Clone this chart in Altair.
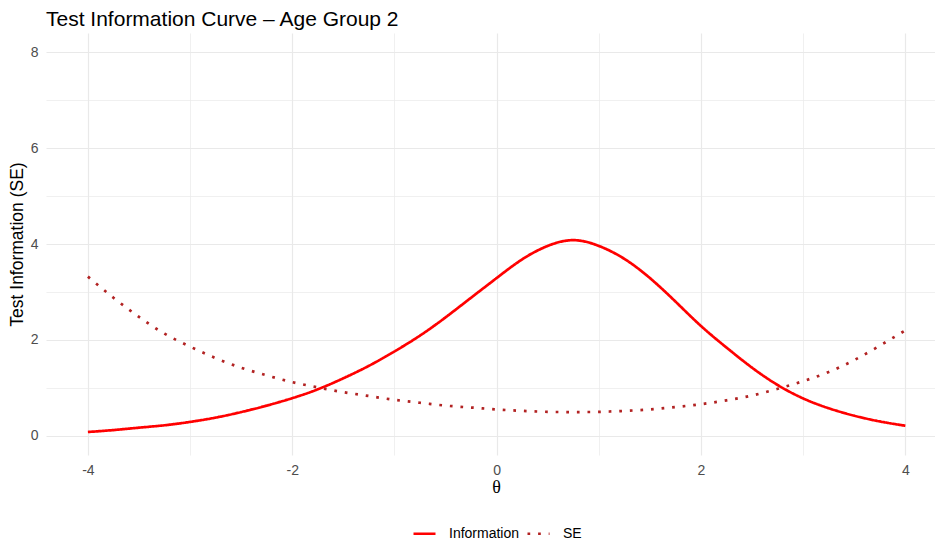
import altair as alt
import pandas as pd

theta = [-4.00, -3.75, -3.50, -3.25, -3.00, -2.75, -2.50, -2.25, -2.00, -1.75,
         -1.50, -1.25, -1.00, -0.75, -0.50, -0.25, 0.00, 0.25, 0.50, 0.75,
         1.00, 1.25, 1.50, 1.75, 2.00, 2.25, 2.50, 2.75, 3.00, 3.25,
         3.50, 3.75, 4.00]

information = [0.08, 0.12, 0.17, 0.22, 0.29, 0.38, 0.495, 0.63, 0.785, 0.97,
               1.20, 1.46, 1.76, 2.09, 2.47, 2.88, 3.29, 3.68, 3.96, 4.08,
               3.96, 3.69, 3.29, 2.80, 2.29, 1.84, 1.42, 1.06, 0.78, 0.575,
               0.42, 0.30, 0.21]

se = [3.32, 2.88, 2.48, 2.13, 1.86, 1.62, 1.42, 1.26, 1.12, 1.01,
      0.91, 0.83, 0.75, 0.69, 0.63, 0.59, 0.55, 0.52, 0.50, 0.495,
      0.50, 0.52, 0.55, 0.60, 0.66, 0.74, 0.84, 0.98, 1.14, 1.33,
      1.58, 1.88, 2.20]

series_names = ["Information", "SE"]
series_colors = ["#FF0000", "#B22222"]

x_ticks = [-4, -3, -2, -1, 0, 1, 2, 3, 4]
y_ticks = [0, 1, 2, 3, 4, 5, 6, 7, 8]

rows = []
for t, v in zip(theta, information):
    rows.append({"theta": t, "value": v, "series": "Information"})
for t, v in zip(theta, se):
    rows.append({"theta": t, "value": v, "series": "SE"})
df = pd.DataFrame(rows)

SANS = "Liberation Sans"
grid_w = {"condition": {"test": "datum.value % 2 !== 0", "value": 0.7}, "value": 1.2}

legend_def = alt.Legend(
    title=None, orient="none", direction="horizontal",
    legendX=366, legendY=488,
    symbolType="stroke", symbolSize=484, symbolStrokeWidth=2.7,
    labelFont=SANS, labelFontSize=14, labelColor="#000000",
    labelOffset=12, columnPadding=2, padding=0,
)

chart = alt.Chart(df).mark_line(
    strokeWidth=2.7, interpolate="natural", strokeCap="butt"
).encode(
    x=alt.X("theta:Q",
            scale=alt.Scale(domain=[-4.41, 4.29], nice=False, zero=False),
            axis=alt.Axis(values=x_ticks,
                          labelExpr="datum.value % 2 === 0 ? toString(datum.value) : ''",
                          title="θ", titleFont="Liberation Serif", titleFontSize=18,
                          titleFontWeight="normal", titleColor="#000000",
                          titleX=450, titleY=37.7, titleBaseline="alphabetic",
                          titleAnchor="start", titleAlign="center",
                          labelFont=SANS, labelFontSize=14, labelColor="#4D4D4D",
                          labelPadding=8, ticks=False, tickSize=0, domain=False,
                          grid=True, gridColor="#E9E9E9", gridWidth=grid_w,
                          labelFlush=False)),
    y=alt.Y("value:Q",
            scale=alt.Scale(domain=[-0.4, 8.4], nice=False, zero=False),
            axis=alt.Axis(values=y_ticks,
                          labelExpr="datum.value % 2 === 0 ? toString(datum.value) : ''",
                          title="Test Information (SE)", titleFont=SANS, titleFontSize=17.5,
                          titleFontWeight="normal", titleColor="#000000",
                          titleX=-28.5, titleY=211, titleAngle=-90,
                          titleBaseline="middle", titleAnchor="start", titleAlign="center",
                          labelFont=SANS, labelFontSize=14, labelColor="#4D4D4D",
                          labelPadding=8, ticks=False, tickSize=0, domain=False,
                          grid=True, gridColor="#E9E9E9", gridWidth=grid_w,
                          labelFlush=False)),
    color=alt.Color("series:N",
                    scale=alt.Scale(domain=series_names, range=series_colors),
                    legend=legend_def),
    strokeDash=alt.StrokeDash("series:N",
                              scale=alt.Scale(domain=series_names, range=[[1, 0], [2.7, 7.9]]),
                              legend=legend_def),
).properties(
    width=889, height=422,
    title=alt.Title("Test Information Curve – Age Group 2", anchor="start", frame="group",
                    font=SANS, fontSize=21, fontWeight="normal", color="#000000",
                    offset=3),
    autosize=alt.AutoSizeParams(type="none"),
    padding={"left": 38, "top": 25, "right": 0, "bottom": 86},
    background="white",
).configure_view(stroke=None)

chart.save("out.html", embed_options={"renderer": "svg", "actions": False})
